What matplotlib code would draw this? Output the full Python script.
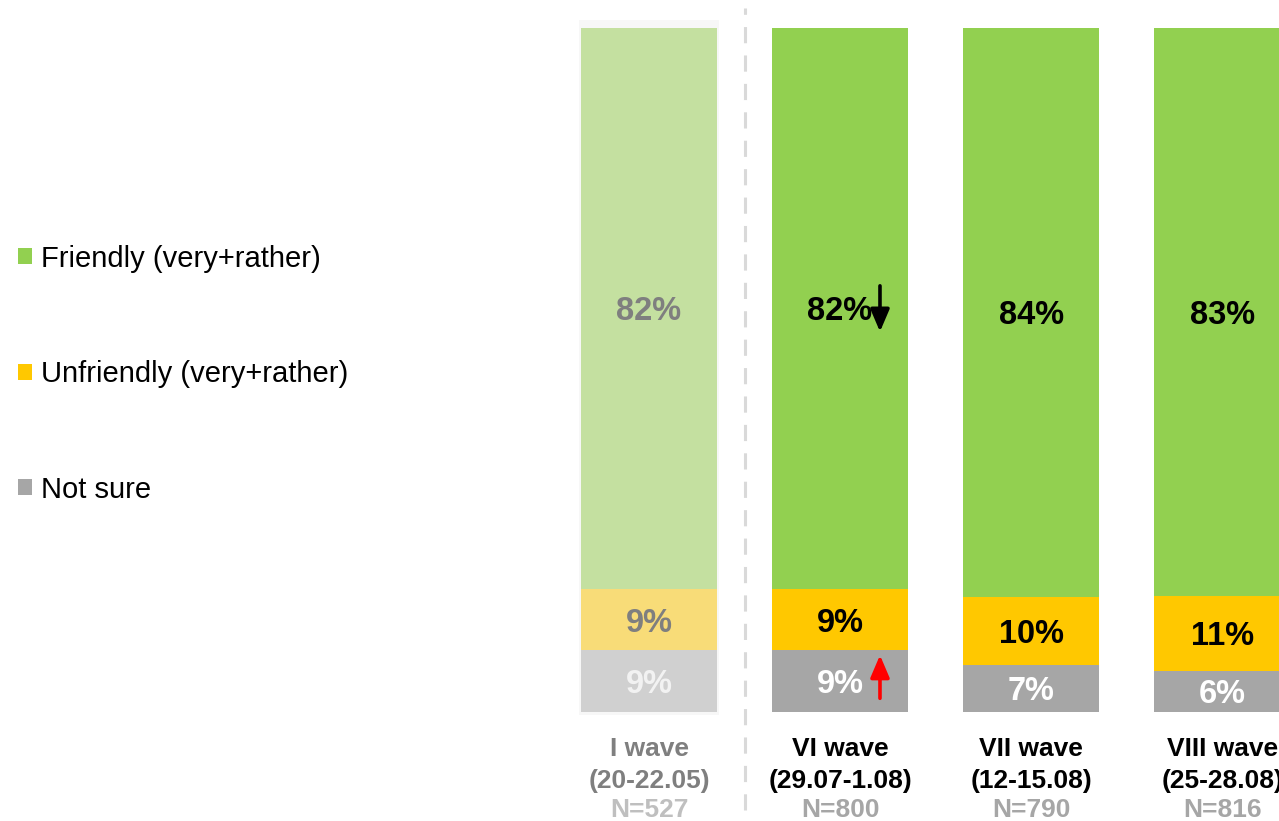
import matplotlib
matplotlib.use("Agg")
import matplotlib.pyplot as plt
from matplotlib.patches import Patch, Rectangle

plt.rcParams['font.family'] = ['Liberation Sans', 'DejaVu Sans']

# Survey waves and answer shares (%)
wave_names = ["I wave", "VI wave", "VII wave", "VIII wave"]
wave_dates = ["(20-22.05)", "(29.07-1.08)", "(12-15.08)", "(25-28.08)"]
sample_sizes = [527, 800, 790, 816]
friendly = [82, 82, 84, 83]
unfriendly = [9, 9, 10, 11]
not_sure = [9, 9, 7, 6]
series_labels = ["Friendly (very+rather)", "Unfriendly (very+rather)", "Not sure"]

GREEN, YELLOW, GREY = "#92D050", "#FFC800", "#A6A6A6"
GREEN_PALE, YELLOW_PALE, GREY_PALE = "#C4E0A0", "#F8DC78", "#D0D0D0"

fig = plt.figure(figsize=(12.79, 8.21), dpi=100)
ax = fig.add_axes([0, 0, 1, 1])
ax.set_xlim(-3.398, 3.298)
ax.set_ylim(-15.94, 104.09)
ax.axis("off")

width = 0.712
xs = list(range(len(wave_names)))

# soft panel behind the baseline wave
ax.add_patch(Rectangle((-0.366, -0.44), 0.732, 101.6, facecolor="#F7F7F7",
                       edgecolor="none", zorder=0))

# separator between the baseline and the later waves
ax.axvline(0.5, ymin=0.013, ymax=0.99, color="#D9D9D9", lw=2.2,
           dashes=(5.3, 4), zorder=1)

for i in xs:
    total = friendly[i] + unfriendly[i] + not_sure[i]
    parts = [not_sure[i], unfriendly[i], friendly[i]]
    heights = [p / total * 100 for p in parts]
    if i == 0:
        colors = [GREY_PALE, YELLOW_PALE, GREEN_PALE]
        txt_colors = ["#F2F2F2", "#7F7F7F", "#7F7F7F"]
    else:
        colors = [GREY, YELLOW, GREEN]
        txt_colors = ["white", "black", "black"]
    bottom = 0
    for val, h, c, tc in zip(parts, heights, colors, txt_colors):
        ax.bar(i, h, width=width, bottom=bottom, color=c, zorder=2)
        ax.text(i, bottom + h / 2 - 0.5, f"{val}%", ha="center", va="center",
                fontsize=23.5, fontweight="bold", color=tc, zorder=3)
        bottom += h

    name_color = "#7F7F7F" if i == 0 else "black"
    n_color = "#BFBFBF" if i == 0 else "#A6A6A6"
    ax.text(i, -5.4, wave_names[i], ha="center", va="center", fontsize=19,
            fontweight="bold", color=name_color)
    ax.text(i, -10.1, wave_dates[i], ha="center", va="center", fontsize=19,
            fontweight="bold", color=name_color)
    ax.text(i, -14.35, f"N={sample_sizes[i]}", ha="center", va="center",
            fontsize=19, fontweight="bold", color=n_color)

# change markers for the VI wave
ax.annotate("", xy=(1.209, 55.6), xytext=(1.209, 62.3),
            arrowprops=dict(arrowstyle="-|>,head_length=0.75,head_width=0.32",
                            lw=2.6, color="black", mutation_scale=18,
                            shrinkA=0, shrinkB=0), zorder=4)
ax.annotate("", xy=(1.209, 8.3), xytext=(1.209, 2.0),
            arrowprops=dict(arrowstyle="-|>,head_length=0.75,head_width=0.32",
                            lw=2.6, color="#FF0000", mutation_scale=18,
                            shrinkA=0, shrinkB=0), zorder=4)

handles = [Patch(facecolor=c, edgecolor="none") for c in (GREEN, YELLOW, GREY)]
ax.legend(handles, series_labels, loc="center left",
          bbox_to_anchor=(18 / 1279, 1 - 374 / 821), bbox_transform=fig.transFigure,
          frameon=False, fontsize=21, borderpad=0, borderaxespad=0,
          handlelength=0.48, handleheight=0.48, handletextpad=0.3,
          labelspacing=3.0)

fig.savefig("out.png", dpi=100)
